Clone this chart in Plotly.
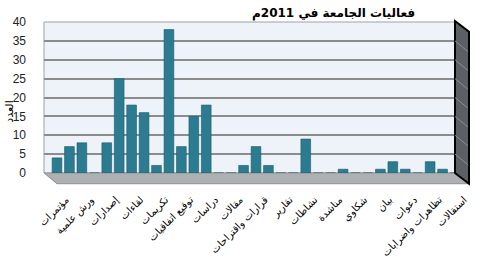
import plotly.graph_objects as go

title_text = "فعاليات الجامعة في 2011م"
y_title = "العدد"

# 33 bars, only every other category is labelled in the reference
values = [4, 7, 8, 0, 8, 25, 18, 16, 2, 38, 7, 15, 18, 0, 0, 2, 7,
          2, 0, 0, 9, 0, 0, 1, 0, 0, 1, 3, 1, 0, 3, 1, 0]
tick_labels = ["مؤتمرات", "ورش علمية", "إصدارات", "لقاءات", "تكريمات",
               "توقيع اتفاقيات", "دراسات", "مقالات", "قرارات واقتراحات",
               "تقارير", "نشاطات", "مناشدة", "شكاوي", "بيان", "دعوات",
               "تظاهرات واضرابات", "استقالات"]
y_ticks = [0, 5, 10, 15, 20, 25, 30, 35, 40]

positions = list(range(len(values)))
tick_positions = positions[::2]

W, H = 491, 271
L, R, T, B = 44, 36, 22, 94
pw, ph = W - L - R, H - T - B


def px(x):
    return (x - L) / pw


def py(y):
    return (H - B - y) / ph


fig = go.Figure()
fig.add_trace(go.Bar(
    x=positions, y=values,
    marker=dict(color="#2b7c91", line=dict(color="#1c5767", width=0.6)),
    width=0.78, cliponaxis=False, showlegend=False,
))

shapes = []
# floor
shapes.append(dict(type="path", xref="paper", yref="paper", layer="below",
                   path=f"M {px(44)} {py(177)} L {px(455)} {py(177)} L {px(469)} {py(188)} L {px(57)} {py(188)} Z",
                   fillcolor="#aeb0b2", line=dict(color="#8f9193", width=1)))
# right side wall
shapes.append(dict(type="path", xref="paper", yref="paper", layer="above",
                   path=f"M {px(455)} {py(21)} L {px(469)} {py(32)} L {px(469)} {py(188)} L {px(455)} {py(177)} Z",
                   fillcolor="#5c6064", line=dict(color="#000000", width=2)))
# faint gridlines on the side wall
for t in y_ticks[1:-1]:
    yv = t / 40.0
    shapes.append(dict(type="line", xref="paper", yref="paper", layer="above",
                       x0=1, x1=px(468), y0=yv, y1=yv - 11 / ph,
                       line=dict(color="#8a8e92", width=1)))
# back wall outline
shapes.append(dict(type="rect", xref="paper", yref="paper", layer="below",
                   x0=0, x1=1, y0=0, y1=1, line=dict(color="#a0a0a0", width=1)))

fig.update_layout(
    width=W, height=H,
    margin=dict(l=L, r=R, t=T, b=B),
    paper_bgcolor="white",
    plot_bgcolor="#eef3fa",
    bargap=0.2,
    shapes=shapes,
    font=dict(family="Liberation Sans, DejaVu Sans, Arial", color="#1a1a1a"),
    xaxis=dict(range=[-1.045, 32.0], tickvals=tick_positions, ticktext=tick_labels,
               tickangle=-45, showgrid=False, zeroline=False, showline=False,
               ticks="", tickfont=dict(size=10, color="#000000",
                                       family="DejaVu Sans, Liberation Sans"),
               ticklabelstandoff=18, ticklabelshift=9),
    yaxis=dict(range=[0, 40], tickvals=y_ticks, showgrid=True, gridcolor="#8c8c8c",
               gridwidth=1.5, zeroline=False, showline=False, ticks="",
               tickfont=dict(size=12, color="#222222"), ticklabelstandoff=17),
    annotations=[
        dict(text=f"<b>{title_text}</b>", xref="paper", yref="paper",
             x=px(333), y=py(13), xanchor="center", yanchor="middle",
             showarrow=False, font=dict(size=12, color="#000000",
                                        family="DejaVu Sans, Liberation Sans")),
        dict(text=y_title, xref="paper", yref="paper", x=px(10), y=py(114),
             xanchor="center", yanchor="middle", textangle=-90, showarrow=False,
             font=dict(size=11, color="#000000", family="DejaVu Sans")),
    ],
)

fig.write_html("out.html")
